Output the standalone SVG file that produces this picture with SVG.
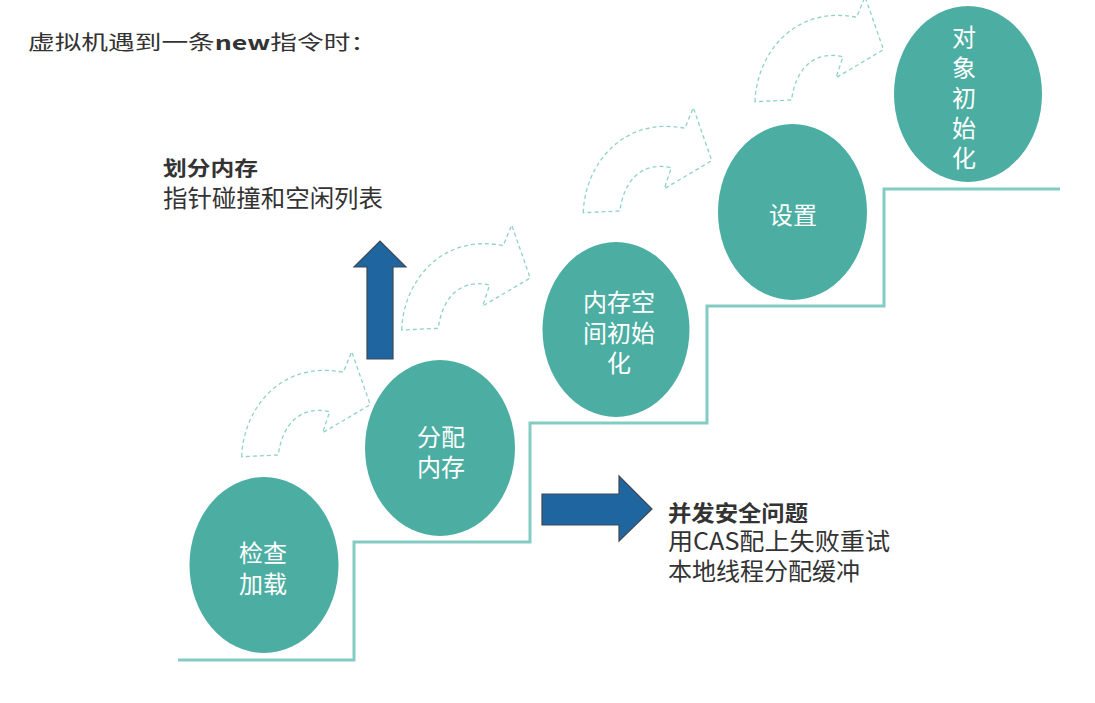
<svg xmlns="http://www.w3.org/2000/svg" xmlns:xlink="http://www.w3.org/1999/xlink" width="1095" height="703" viewBox="0 0 1095 703">
<style>
.node{fill:#4caea2;}
.nt{fill:#ffffff;font-family:"Noto Sans CJK SC","Noto Sans",sans-serif;font-size:24px;text-anchor:middle;}
.lbl{fill:#333333;font-family:"Noto Sans CJK SC","Noto Sans",sans-serif;}
.dash{fill:none;stroke:#8fd2c8;stroke-width:1.3;stroke-dasharray:4 3;}
.stair{fill:none;stroke:#84ccc3;stroke-width:3;}
.blue{fill:#1f66a1;stroke:#404852;stroke-width:1.2;}
</style>
<defs>
<path id="curl" d="M0,0 C1.3,-46.7 38.3,-96.7 101.6,-84.4 L110,-105 L128.5,-52 L81,-24 L88,-45 C58.3,-51.7 40.3,-31.7 36.6,-1.7 Z"/>
</defs>
<rect width="1095" height="703" fill="#ffffff"/>
<text class="lbl" x="28" y="50" font-size="20" textLength="349" lengthAdjust="spacingAndGlyphs">虚拟机遇到一条<tspan font-weight="bold">new</tspan>指令时：</text>
<g id="connectors">
<polyline class="stair" points="178,660 354,660 354,542 530,542 530,423 707,423 707,306 884,306 884,189 1060,189"/>
<use xlink:href="#curl" class="dash" transform="translate(241.7,456.7)"/>
<use xlink:href="#curl" class="dash" transform="translate(401.7,330)"/>
<use xlink:href="#curl" class="dash" transform="translate(583.3,212.7)"/>
<use xlink:href="#curl" class="dash" transform="translate(755,101.7)"/>
<polygon class="blue" points="367,359 393,359 393,267 406,267 380,241 354,267 367,267"/>
<polygon class="blue" points="542,494 619,494 619,476 652,509 619,541 619,525 542,525"/>
</g>
<g id="node-check">
<ellipse class="node" cx="264" cy="565" rx="74.5" ry="88"/>
<text class="nt" x="263" y="562">检查</text>
<text class="nt" x="263" y="593">加载</text>
</g>
<g id="node-alloc">
<ellipse class="node" cx="440" cy="448" rx="75" ry="88"/>
<text class="nt" x="441" y="446">分配</text>
<text class="nt" x="441" y="476">内存</text>
</g>
<g id="node-meminit">
<ellipse class="node" cx="616" cy="329.5" rx="73.5" ry="87.5"/>
<text class="nt" x="619" y="311">内存空</text>
<text class="nt" x="619" y="342">间初始</text>
<text class="nt" x="619" y="372">化</text>
</g>
<g id="node-set">
<ellipse class="node" cx="792.5" cy="212" rx="74.5" ry="88"/>
<text class="nt" x="793" y="224">设置</text>
</g>
<g id="node-objinit">
<ellipse class="node" cx="968" cy="94" rx="74" ry="88"/>
<text class="nt" x="964" y="46">对</text>
<text class="nt" x="964" y="77">象</text>
<text class="nt" x="964" y="107">初</text>
<text class="nt" x="964" y="137">始</text>
<text class="nt" x="964" y="167">化</text>
</g>
<g id="label-divide">
<text class="lbl" x="163" y="176" font-size="20" font-weight="bold" textLength="95" lengthAdjust="spacingAndGlyphs">划分内存</text>
<text class="lbl" x="163" y="207" font-size="24" textLength="220" lengthAdjust="spacingAndGlyphs">指针碰撞和空闲列表</text>
</g>
<g id="label-concurrency">
<text class="lbl" x="668" y="521" font-size="22" font-weight="bold" textLength="140" lengthAdjust="spacingAndGlyphs">并发安全问题</text>
<text class="lbl" x="668" y="550" font-size="24" textLength="222" lengthAdjust="spacingAndGlyphs">用CAS配上失败重试</text>
<text class="lbl" x="668" y="580" font-size="24" textLength="192" lengthAdjust="spacingAndGlyphs">本地线程分配缓冲</text>
</g>
</svg>
